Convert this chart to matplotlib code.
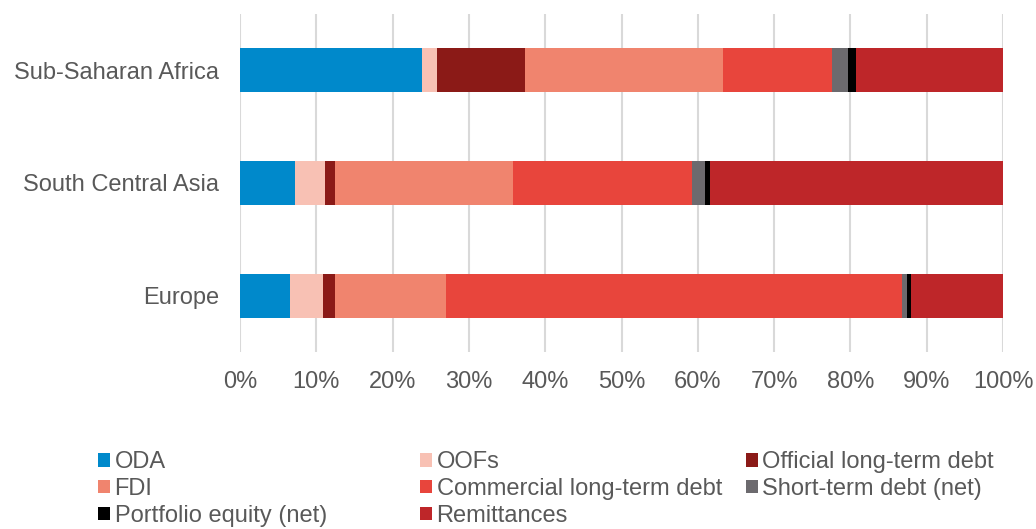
import numpy as np
import matplotlib.pyplot as plt

plt.rcParams['font.family'] = ['Liberation Sans', 'DejaVu Sans']

regions = ['Europe', 'South Central Asia', 'Sub-Saharan Africa']

# share of each flow, in percent (rows follow the regions above)
oda = [6.5, 7.25, 23.8]
oofs = [4.4, 3.85, 2.0]
official_lt = [1.55, 1.35, 11.6]
fdi = [14.55, 23.35, 25.9]
commercial_lt = [59.7, 23.4, 14.3]
short_term = [0.7, 1.7, 2.1]
portfolio = [0.6, 0.7, 1.0]
remittances = [12.0, 38.4, 19.3]

series = [
    ('ODA', oda, '#0089CB'),
    ('OOFs', oofs, '#F8C1B4'),
    ('Official long-term debt', official_lt, '#8B1A17'),
    ('FDI', fdi, '#F0846E'),
    ('Commercial long-term debt', commercial_lt, '#E8453C'),
    ('Short-term debt (net)', short_term, '#6C6A6E'),
    ('Portfolio equity (net)', portfolio, '#000000'),
    ('Remittances', remittances, '#BE2629'),
]

fig = plt.figure(figsize=(10.36, 5.29), dpi=100)
ax = fig.add_axes([0.2317, 0.3346, 0.7365, 0.639])

y = np.arange(len(regions))
left = np.zeros(len(regions))
handles = {}
for name, vals, col in series:
    vals = np.array(vals, dtype=float)
    b = ax.barh(y, vals, left=left, height=0.39, color=col, label=name, zorder=3)
    handles[name] = b
    left += vals

ax.set_xlim(0, 100)
ax.set_ylim(-0.5, 2.5)
ax.set_yticks(y)
ax.set_yticklabels(regions)
ax.set_xticks(np.arange(0, 101, 10))
ax.set_xticklabels([f'{v}%' for v in range(0, 101, 10)])
ax.grid(axis='x', color='#D9D9D9', linewidth=1.5, zorder=0)
for s in ax.spines.values():
    s.set_visible(False)
ax.tick_params(axis='both', length=0, labelsize=17, labelcolor='#595959')
ax.tick_params(axis='x', pad=14)
ax.tick_params(axis='y', pad=15)

# legend in three equal-width columns, one legend per column
columns = [
    (0.0946, ['ODA', 'FDI', 'Portfolio equity (net)']),
    (0.4054, ['OOFs', 'Commercial long-term debt', 'Remittances']),
    (0.7200, ['Official long-term debt', 'Short-term debt (net)']),
]
for x0, names in columns:
    leg = fig.legend([handles[n] for n in names], names,
                     loc='upper left', bbox_to_anchor=(x0, 0.147),
                     frameon=False, fontsize=17, handlelength=0.5, handleheight=0.5,
                     handletextpad=0.2, labelspacing=0.2,
                     borderpad=0, borderaxespad=0)
    for t in leg.get_texts():
        t.set_color('#595959')

fig.savefig('out.png', dpi=100)
